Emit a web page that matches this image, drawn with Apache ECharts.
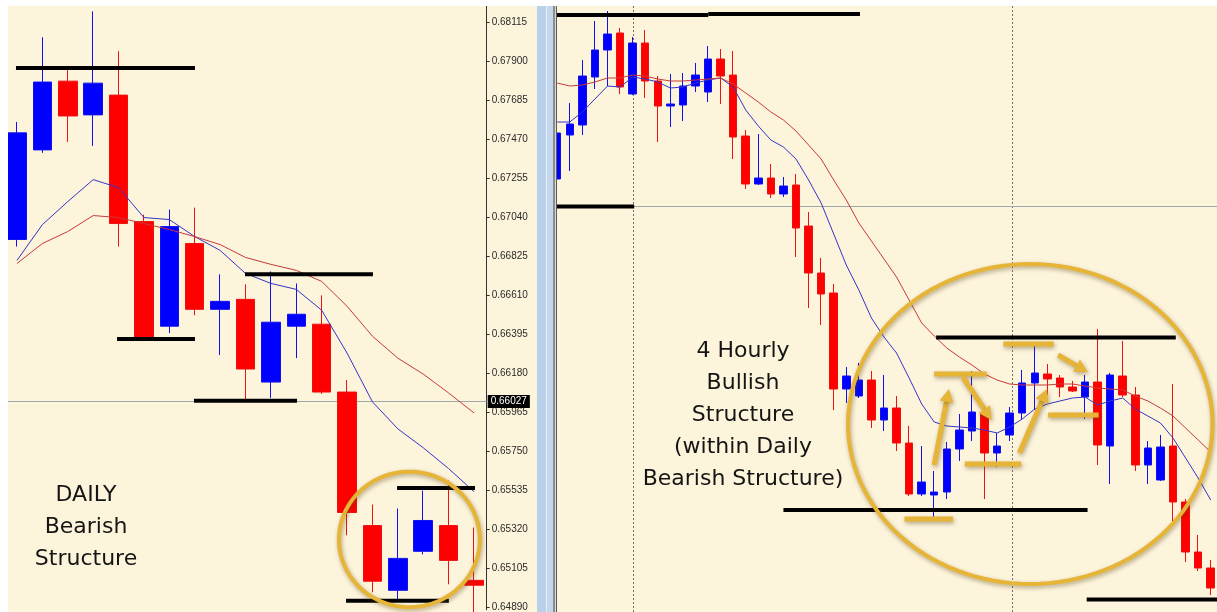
<!DOCTYPE html>
<html>
<head>
<meta charset="utf-8">
<script src="https://cdn.jsdelivr.net/npm/echarts@6/dist/echarts.min.js"></script>
<style>
  html, body { margin: 0; padding: 0; background: #fff; }
  #chart { width: 1217px; height: 612px; }
</style>
</head>
<body>
<div id="chart"></div>
<script>
// ---------- daily panel ----------
const dailyTicks = [0.68115, 0.67900, 0.67685, 0.67470, 0.67255, 0.67040, 0.66825, 0.66610,
  0.66395, 0.66180, 0.65965, 0.65750, 0.65535, 0.65320, 0.65105, 0.64890];
const currentPrice = 0.66027;
// [open, close, low, high]
const dailyCandles = [
  [0.66916, 0.67504, 0.66877, 0.67564],
  [0.67410, 0.67784, 0.67394, 0.68031],
  [0.67789, 0.67597, 0.67454, 0.67861],
  [0.67603, 0.67778, 0.67432, 0.68174],
  [0.67712, 0.67004, 0.66877, 0.67954],
  [0.67015, 0.66378, 0.66356, 0.67053],
  [0.66438, 0.66987, 0.66400, 0.67081],
  [0.66894, 0.66531, 0.66498, 0.67092],
  [0.66531, 0.66575, 0.66279, 0.66724],
  [0.66586, 0.66202, 0.66032, 0.66669],
  [0.66130, 0.66460, 0.66043, 0.66740],
  [0.66438, 0.66504, 0.66262, 0.66674],
  [0.66449, 0.66075, 0.66065, 0.66608],
  [0.66075, 0.65411, 0.65285, 0.66141],
  [0.65339, 0.65032, 0.64971, 0.65455],
  [0.64982, 0.65158, 0.64922, 0.65433],
  [0.65197, 0.65367, 0.65180, 0.65532],
  [0.65339, 0.65147, 0.65015, 0.65587],
  [0.65037, 0.65010, 0.64850, 0.65328]
];
const dailyMaFast = [0.66801, 0.66998, 0.67125, 0.67246, 0.67202, 0.67037, 0.67026, 0.66932, 0.66856,
  0.66729, 0.66674, 0.66641, 0.66526, 0.66290, 0.66021, 0.65872, 0.65768, 0.65653, 0.65526];
const dailyMaSlow = [0.66784, 0.66894, 0.66960, 0.67048, 0.67037, 0.67004, 0.66971, 0.66932, 0.66888,
  0.66817, 0.66779, 0.66746, 0.66685, 0.66548, 0.66383, 0.66262, 0.66174, 0.66070, 0.65960];
// [fromIndex, toIndex, price]
const dailyLevels = [
  [-0.04, 7.01, 0.67861],
  [3.94, 7.01, 0.66367],
  [6.97, 11.03, 0.66027],
  [8.98, 14.02, 0.66725],
  [14.97, 18.04, 0.65546],
  [12.96, 17.01, 0.64924]
];
// ellipse bounding box [x1, price1, x2, price2]
const dailyCircle = [[12.68, 0.65636, 18.23, 0.64889]];

// ---------- 4 hour panel ----------
const h4Candles = [
  [0.66082, 0.66174, 0.66040, 0.66190],
  [0.66170, 0.66192, 0.66098, 0.66234],
  [0.66190, 0.66288, 0.66170, 0.66320],
  [0.66286, 0.66340, 0.66262, 0.66398],
  [0.66340, 0.66372, 0.66268, 0.66418],
  [0.66374, 0.66266, 0.66252, 0.66384],
  [0.66252, 0.66354, 0.66250, 0.66366],
  [0.66354, 0.66278, 0.66244, 0.66380],
  [0.66278, 0.66228, 0.66156, 0.66288],
  [0.66228, 0.66232, 0.66186, 0.66292],
  [0.66230, 0.66268, 0.66198, 0.66294],
  [0.66268, 0.66290, 0.66256, 0.66314],
  [0.66256, 0.66322, 0.66236, 0.66348],
  [0.66322, 0.66288, 0.66232, 0.66342],
  [0.66290, 0.66166, 0.66122, 0.66338],
  [0.66168, 0.66072, 0.66062, 0.66180],
  [0.66072, 0.66084, 0.66070, 0.66172],
  [0.66084, 0.66052, 0.66044, 0.66112],
  [0.66052, 0.66068, 0.66046, 0.66086],
  [0.66070, 0.65984, 0.65926, 0.66092],
  [0.65988, 0.65894, 0.65824, 0.66016],
  [0.65894, 0.65852, 0.65790, 0.65924],
  [0.65854, 0.65662, 0.65620, 0.65872],
  [0.65662, 0.65688, 0.65634, 0.65706],
  [0.65648, 0.65680, 0.65644, 0.65714],
  [0.65680, 0.65600, 0.65584, 0.65698],
  [0.65600, 0.65624, 0.65578, 0.65690],
  [0.65624, 0.65554, 0.65538, 0.65648],
  [0.65554, 0.65452, 0.65448, 0.65588],
  [0.65452, 0.65476, 0.65448, 0.65548],
  [0.65450, 0.65456, 0.65406, 0.65498],
  [0.65456, 0.65542, 0.65442, 0.65556],
  [0.65542, 0.65580, 0.65518, 0.65612],
  [0.65578, 0.65616, 0.65558, 0.65698],
  [0.65614, 0.65534, 0.65442, 0.65626],
  [0.65534, 0.65548, 0.65506, 0.65574],
  [0.65570, 0.65614, 0.65558, 0.65626],
  [0.65614, 0.65674, 0.65600, 0.65700],
  [0.65674, 0.65694, 0.65620, 0.65748],
  [0.65692, 0.65682, 0.65650, 0.65712],
  [0.65684, 0.65666, 0.65646, 0.65690],
  [0.65666, 0.65658, 0.65656, 0.65678],
  [0.65646, 0.65676, 0.65602, 0.65690],
  [0.65676, 0.65550, 0.65510, 0.65782],
  [0.65548, 0.65690, 0.65472, 0.65694],
  [0.65688, 0.65650, 0.65646, 0.65758],
  [0.65650, 0.65510, 0.65498, 0.65666],
  [0.65510, 0.65544, 0.65472, 0.65558],
  [0.65480, 0.65546, 0.65478, 0.65570],
  [0.65548, 0.65436, 0.65398, 0.65672],
  [0.65436, 0.65336, 0.65316, 0.65442],
  [0.65336, 0.65304, 0.65298, 0.65370],
  [0.65304, 0.65264, 0.65250, 0.65320]
];
const h4MaFast = [0.66196, 0.66196, 0.66216, 0.66242, 0.66268, 0.66266, 0.66286, 0.66282, 0.66276, 0.66264,
  0.66266, 0.66274, 0.66280, 0.66284, 0.66266, 0.66220, 0.66188, 0.66160, 0.66146, 0.66122,
  0.66080, 0.66034, 0.65972, 0.65910, 0.65860, 0.65804, 0.65766, 0.65734, 0.65684, 0.65632,
  0.65596, 0.65588, 0.65586, 0.65584, 0.65580, 0.65574, 0.65586, 0.65602, 0.65622, 0.65632,
  0.65638, 0.65644, 0.65646, 0.65630, 0.65638, 0.65644, 0.65622, 0.65608, 0.65594, 0.65564,
  0.65524, 0.65484, 0.65440];
const h4MaSlow = [0.66274, 0.66268, 0.66270, 0.66276, 0.66284, 0.66284, 0.66290, 0.66288, 0.66282, 0.66278,
  0.66278, 0.66280, 0.66282, 0.66284, 0.66272, 0.66254, 0.66236, 0.66216, 0.66200, 0.66178,
  0.66150, 0.66122, 0.66080, 0.66040, 0.65994, 0.65958, 0.65922, 0.65886, 0.65840, 0.65794,
  0.65768, 0.65744, 0.65726, 0.65710, 0.65692, 0.65680, 0.65672, 0.65670, 0.65670, 0.65670,
  0.65672, 0.65672, 0.65668, 0.65664, 0.65662, 0.65660, 0.65648, 0.65638, 0.65624, 0.65608,
  0.65584, 0.65560, 0.65536];
const h4Levels = [
  [-0.5, 12.02, 0.66410],
  [12.02, 24.09, 0.66412],
  [-0.5, 6.12, 0.66027],
  [30.15, 49.22, 0.65765],
  [18.0, 42.2, 0.65420],
  [42.13, 52.5, 0.65241]
];
const h4Separators = [[6.04], [36.15]];
const h4Circle = [[23.14, 0.65912, 52.14, 0.65272]];
// gold marks [x1, price1, x2, price2, arrowHead]
const h4Marks = [
  [27.63, 0.65402, 31.49, 0.65402, 0],
  [29.99, 0.65510, 31.17, 0.65662, 1],
  [29.99, 0.65692, 34.17, 0.65692, 0],
  [32.27, 0.65686, 34.56, 0.65600, 1],
  [32.43, 0.65512, 36.92, 0.65512, 0],
  [36.77, 0.65534, 38.98, 0.65662, 1],
  [35.5, 0.65752, 39.5, 0.65752, 0],
  [39.85, 0.65730, 42.22, 0.65696, 1],
  [39.06, 0.65610, 43.08, 0.65610, 0]
];

const dailyCats = dailyCandles.map((d, i) => 'D' + (i + 1));
const h4Cats = h4Candles.map((d, i) => 'H' + (i + 1));

const CREAM = '#FDF4DC';
const GOLD = '#E6B437';
const goldShadow = { shadowBlur: 4, shadowColor: 'rgba(90,70,20,0.45)', shadowOffsetX: 1, shadowOffsetY: 2 };

function renderLevel(params, api) {
  const a = api.coord([api.value(0), api.value(2)]);
  const b = api.coord([api.value(1), api.value(2)]);
  return { type: 'line', shape: { x1: a[0], y1: a[1], x2: b[0], y2: b[1] },
    style: { stroke: '#000', lineWidth: 4 } };
}

// current price line across the whole panel, optional price box at the axis
function renderPriceLine(params, api) {
  const cs = params.coordSys;
  const y = Math.round(api.coord([0, api.value(0)])[1]) + 0.5;
  let children = [{ type: 'line', shape: { x1: cs.x, y1: y, x2: cs.x + cs.width, y2: y },
    style: { stroke: '#9FA9A9', lineWidth: 1 } }];
  if (api.value(1)) {
    children.push({ type: 'text', x: cs.x + cs.width + 1, y: y,
      style: { text: api.value(0).toFixed(5), fill: '#fff', backgroundColor: '#000',
        padding: [2, 3, 1, 3], font: '10px "Liberation Sans"',
        verticalAlign: 'middle', textVerticalAlign: 'middle' } });
  }
  return { type: 'group', children: children };
}

function renderEllipse(params, api) {
  const a = api.coord([api.value(0), api.value(1)]);
  const b = api.coord([api.value(2), api.value(3)]);
  const cx = (a[0] + b[0]) / 2, cy = (a[1] + b[1]) / 2;
  const rx = Math.abs(b[0] - a[0]) / 2, ry = Math.abs(b[1] - a[1]) / 2;
  let pts = [];
  for (let i = 0; i < 120; i++) {
    const t = i / 120 * Math.PI * 2;
    pts.push([cx + rx * Math.cos(t), cy + ry * Math.sin(t)]);
  }
  return { type: 'polygon', shape: { points: pts },
    style: Object.assign({ fill: 'none', stroke: GOLD, lineWidth: 4 }, goldShadow) };
}

function renderMark(params, api) {
  const a = api.coord([api.value(0), api.value(1)]);
  const b = api.coord([api.value(2), api.value(3)]);
  let children = [];
  let end = b;
  if (api.value(4)) {
    const ang = Math.atan2(b[1] - a[1], b[0] - a[0]);
    const L = 13, W = 7;
    const bx = b[0] - L * Math.cos(ang), by = b[1] - L * Math.sin(ang);
    end = [bx, by];
    children.push({ type: 'polygon', shape: { points: [
      b, [bx - W * Math.sin(ang), by + W * Math.cos(ang)], [bx + W * Math.sin(ang), by - W * Math.cos(ang)]] },
      style: Object.assign({ fill: GOLD }, goldShadow) });
  }
  children.unshift({ type: 'line', shape: { x1: a[0], y1: a[1], x2: end[0], y2: end[1] },
    style: Object.assign({ stroke: GOLD, lineWidth: 5 }, goldShadow) });
  return { type: 'group', children: children };
}

function renderSeparator(params, api) {
  const x = Math.round(api.coord([api.value(0), 0.66])[0]) + 0.5;
  const cs = params.coordSys;
  return { type: 'line', shape: { x1: x, y1: cs.y, x2: x, y2: cs.y + cs.height },
    style: { stroke: '#707070', lineWidth: 1, lineDash: [2, 2] } };
}

const candleStyle = {
  color: '#0000FF', color0: '#FF0000',
  borderColor: '#1010F0', borderColor0: '#F01010', borderWidth: 1
};

let chart = echarts.init(document.getElementById('chart'));
let option = {
  animation: false,
  backgroundColor: '#fff',
  grid: [
    { left: 4.3, top: 6, width: 482.4, height: 606 },
    { left: 550.96, top: 6, width: 672.6, height: 606 }
  ],
  xAxis: [
    { type: 'category', gridIndex: 0, data: dailyCats, show: false, boundaryGap: true },
    { type: 'value', gridIndex: 0, min: -0.5, max: dailyCandles.length - 0.5, show: false },
    { type: 'category', gridIndex: 1, data: h4Cats, show: false, boundaryGap: true },
    { type: 'value', gridIndex: 1, min: -0.5, max: h4Candles.length - 0.5, show: false }
  ],
  yAxis: [
    {
      type: 'value', gridIndex: 0, position: 'right',
      min: 0.648747, max: 0.682033,
      axisLine: { show: true, onZero: false, lineStyle: { color: '#333', width: 1 } },
      axisTick: { show: true, length: 3, customValues: dailyTicks, lineStyle: { color: '#333' } },
      axisLabel: {
        customValues: dailyTicks, margin: 5, color: '#2a2a2a',
        fontFamily: 'Liberation Sans', fontSize: 10,
        formatter: v => v.toFixed(5)
      },
      splitLine: { show: false }
    },
    { type: 'value', gridIndex: 1, min: 0.65216, max: 0.66428, show: false,
      axisLine: { onZero: false }, splitLine: { show: false } }
  ],
  graphic: [
    { type: 'rect', z: -10, shape: { x: 8, y: 6, width: 529, height: 606 }, style: { fill: CREAM } },
    { type: 'rect', z: -10, shape: { x: 556, y: 6, width: 661, height: 606 }, style: { fill: CREAM } },
    { type: 'rect', z: 100, shape: { x: 0, y: 0, width: 8, height: 612 }, style: { fill: '#fff' } },
    { type: 'rect', z: 100, shape: { x: 537, y: 0, width: 9, height: 612 }, style: { fill: '#B9D1EB' } },
    { type: 'rect', z: 100, shape: { x: 546, y: 0, width: 1, height: 612 }, style: { fill: '#E6EEF6' } },
    { type: 'rect', z: 100, shape: { x: 547, y: 0, width: 6, height: 612 }, style: { fill: '#C2D7EC' } },
    { type: 'rect', z: 100, shape: { x: 553, y: 0, width: 2, height: 612 }, style: { fill: '#8C8C8C' } },
    { type: 'rect', z: 100, shape: { x: 555, y: 0, width: 1, height: 612 }, style: { fill: '#D8D8D8' } },
    { type: 'rect', z: 100, shape: { x: 556, y: 0, width: 1, height: 612 }, style: { fill: '#5A5A5A' } },
    { type: 'rect', z: 100, shape: { x: 0, y: 0, width: 1217, height: 6 }, style: { fill: '#fff' } },
    {
      type: 'text', z: 50, x: 86, y: 527,
      style: {
        text: 'DAILY\nBearish\nStructure', font: '22px "DejaVu Sans"', fill: '#151515',
        align: 'center', verticalAlign: 'middle', textAlign: 'center', textVerticalAlign: 'middle', lineHeight: 32
      }
    },
    {
      type: 'text', z: 50, x: 743, y: 415.5,
      style: {
        text: '4 Hourly\nBullish\nStructure\n(within Daily\nBearish Structure)', font: '22px "DejaVu Sans"',
        fill: '#151515', align: 'center', verticalAlign: 'middle', textAlign: 'center',
        textVerticalAlign: 'middle', lineHeight: 32
      }
    }
  ],
  series: [
    {
      name: 'daily price line', type: 'custom', xAxisIndex: 1, yAxisIndex: 0, z: 1,
      data: [[currentPrice, 1]], encode: { y: 0 }, renderItem: renderPriceLine, silent: true
    },
    {
      name: 'daily', type: 'candlestick', xAxisIndex: 0, yAxisIndex: 0,
      data: dailyCandles, barWidth: 19, itemStyle: candleStyle
    },
    {
      name: 'daily ma fast', type: 'line', xAxisIndex: 0, yAxisIndex: 0, z: 3,
      data: dailyMaFast, symbol: 'none', lineStyle: { color: '#3535C8', width: 1 }
    },
    {
      name: 'daily ma slow', type: 'line', xAxisIndex: 0, yAxisIndex: 0, z: 3,
      data: dailyMaSlow, symbol: 'none', lineStyle: { color: '#C83A3A', width: 1 }
    },
    {
      name: 'daily levels', type: 'custom', xAxisIndex: 1, yAxisIndex: 0, z: 4,
      data: dailyLevels, renderItem: renderLevel, silent: true
    },
    {
      name: 'daily circle', type: 'custom', xAxisIndex: 1, yAxisIndex: 0, z: 5,
      data: dailyCircle, renderItem: renderEllipse, silent: true
    },
    {
      name: 'h4 separators', type: 'custom', xAxisIndex: 3, yAxisIndex: 1, z: 1,
      data: h4Separators, encode: { x: 0 }, renderItem: renderSeparator, silent: true
    },
    {
      name: 'h4 price line', type: 'custom', xAxisIndex: 3, yAxisIndex: 1, z: 1,
      data: [[currentPrice, 0]], encode: { y: 0 }, renderItem: renderPriceLine, silent: true
    },
    {
      name: 'h4', type: 'candlestick', xAxisIndex: 2, yAxisIndex: 1,
      data: h4Candles, barWidth: 8, itemStyle: candleStyle
    },
    {
      name: 'h4 ma fast', type: 'line', xAxisIndex: 2, yAxisIndex: 1, z: 3,
      data: h4MaFast, symbol: 'none', lineStyle: { color: '#3535C8', width: 1 }
    },
    {
      name: 'h4 ma slow', type: 'line', xAxisIndex: 2, yAxisIndex: 1, z: 3,
      data: h4MaSlow, symbol: 'none', lineStyle: { color: '#C83A3A', width: 1 }
    },
    {
      name: 'h4 levels', type: 'custom', xAxisIndex: 3, yAxisIndex: 1, z: 4,
      data: h4Levels, renderItem: renderLevel, silent: true
    },
    {
      name: 'h4 marks', type: 'custom', xAxisIndex: 3, yAxisIndex: 1, z: 5,
      data: h4Marks, renderItem: renderMark, silent: true
    },
    {
      name: 'h4 circle', type: 'custom', xAxisIndex: 3, yAxisIndex: 1, z: 5,
      data: h4Circle, renderItem: renderEllipse, silent: true
    }
  ]
};
if (option && typeof option === 'object') {
  chart.setOption(option);
}
</script>
</body>
</html>
